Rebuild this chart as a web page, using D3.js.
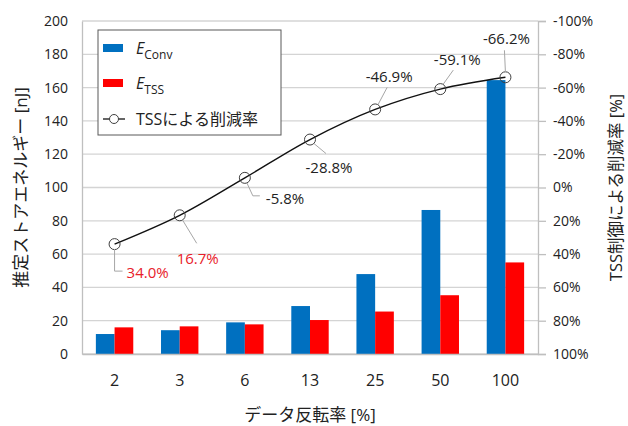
<!DOCTYPE html>
<html>
<head>
<meta charset="utf-8">
<script src="https://cdn.jsdelivr.net/npm/d3@7/dist/d3.min.js"></script>
<style>
  body { margin: 0; background: #fff; }
  text { font-family: "Open Sans", "Noto Sans CJK JP", sans-serif; fill: #222; }
</style>
</head>
<body>
<div id="chart"></div>
<script>
// data
var categories = ["2", "3", "6", "13", "25", "50", "100"];
var eConv = [12, 14.3, 19, 28.8, 48, 86.5, 164.5];
var eTss = [16, 16.6, 17.8, 20.4, 25.5, 35.3, 55];
var reduction = [34.0, 16.7, -5.8, -28.8, -46.9, -59.1, -66.2];
var leftTicks = [0, 20, 40, 60, 80, 100, 120, 140, 160, 180, 200];
var rightTicks = [-100, -80, -60, -40, -20, 0, 20, 40, 60, 80, 100];

// label offsets (from point) for the data labels
var labelPos = [
  {dx: 12, dy: 29, anchor: "start", leader: [[0, 5], [0, 27], [8, 27]]},
  {dx: 18, dy: 43, anchor: "middle", leader: [[3, 5], [17, 28]]},
  {dx: 21, dy: 21, anchor: "start", leader: [[2, 5], [8, 18], [15, 18]]},
  {dx: 19, dy: 28, anchor: "middle", leader: [[4, 4], [16, 14]]},
  {dx: 14, dy: -33, anchor: "middle", leader: [[3, -5], [12, -22]]},
  {dx: 17, dy: -29, anchor: "middle", leader: [[3, -5], [13, -19]]},
  {dx: 1, dy: -39, anchor: "middle", leader: [[0, -5], [-1, -27]]}
];

var W = 628, H = 426;
var margin = {top: 21, right: 90, bottom: 72, left: 82};
var width = W - margin.left - margin.right,
    height = H - margin.top - margin.bottom;

var svg = d3.select("#chart").append("svg")
  .attr("width", W).attr("height", H);
var g = svg.append("g")
  .attr("transform", "translate(" + margin.left + "," + margin.top + ")");

var x = d3.scaleBand().domain(categories).range([0, width]);
var xInner = d3.scaleBand().domain(["conv", "tss"]).range([0, 37.4]);
var y = d3.scaleLinear().domain([0, 200]).range([height, 0]);
var y2 = d3.scaleLinear().domain([-100, 100]).range([0, height]);

// gridlines
g.append("g").selectAll("line").data(leftTicks).enter().append("line")
  .attr("x1", 0).attr("x2", width)
  .attr("y1", function (d) { return y(d); })
  .attr("y2", function (d) { return y(d); })
  .attr("stroke", "#d4d4d4").attr("stroke-width", 1.3);

// bars
var groups = g.append("g").selectAll("g").data(categories).enter().append("g")
  .attr("transform", function (d) { return "translate(" + (x(d) + x.bandwidth() / 2 - 18.7) + ",0)"; });
groups.append("rect")
  .attr("x", xInner("conv")).attr("width", xInner.bandwidth())
  .attr("y", function (d, i) { return y(eConv[i]); })
  .attr("height", function (d, i) { return height - y(eConv[i]); })
  .attr("fill", "#0070c0");
groups.append("rect")
  .attr("x", xInner("tss")).attr("width", xInner.bandwidth())
  .attr("y", function (d, i) { return y(eTss[i]); })
  .attr("height", function (d, i) { return height - y(eTss[i]); })
  .attr("fill", "#ff0000");

// axes
var leftAxis = g.append("g").call(d3.axisLeft(y).tickValues(leftTicks).tickSize(0).tickPadding(14));
leftAxis.select(".domain").attr("stroke", "#bfbfbf").attr("stroke-width", 1.3);
leftAxis.selectAll("text").style("font-size", "14px");

var rightAxis = g.append("g").attr("transform", "translate(" + width + ",0)")
  .call(d3.axisRight(y2).tickValues(rightTicks).tickSize(8).tickPadding(7)
    .tickFormat(function (d) { return d + "%"; }));
rightAxis.select(".domain").attr("stroke", "#bfbfbf").attr("stroke-width", 1.3);
rightAxis.selectAll(".tick line").attr("stroke", "#bfbfbf").attr("stroke-width", 1.3);
rightAxis.selectAll("text").style("font-size", "14px").attr("fill", "#222");

var bottomAxis = g.append("g").attr("transform", "translate(0," + height + ")")
  .call(d3.axisBottom(x).tickSize(0).tickPadding(21));
bottomAxis.select(".domain").attr("stroke", "#bfbfbf").attr("stroke-width", 1.3);
bottomAxis.selectAll("text").style("font-size", "16px").attr("fill", "#222");

// reduction line
var px = function (i) { return x(categories[i]) + x.bandwidth() / 2; };
var line = d3.line()
  .x(function (d, i) { return px(i); })
  .y(function (d) { return y2(d); })
  .curve(d3.curveCatmullRom.alpha(0.5));
g.append("path").datum(reduction)
  .attr("d", line).attr("fill", "none")
  .attr("stroke", "#111").attr("stroke-width", 1.4);
g.append("g").selectAll("circle").data(reduction).enter().append("circle")
  .attr("cx", function (d, i) { return px(i); })
  .attr("cy", function (d) { return y2(d); })
  .attr("r", 5.5)
  .attr("fill", "none").attr("stroke", "#404040").attr("stroke-width", 1);

// data labels
reduction.forEach(function (v, i) {
  var cx = px(i), cy = y2(v), p = labelPos[i];
  g.append("path")
    .attr("d", d3.line()(p.leader.map(function (q) { return [cx + q[0], cy + q[1]]; })))
    .attr("fill", "none").attr("stroke", "#a6a6a6").attr("stroke-width", 1);
  g.append("text")
    .attr("x", cx + p.dx).attr("y", cy + p.dy)
    .attr("dy", "0.35em")
    .attr("text-anchor", p.anchor)
    .style("font-size", "15px")
    .style("fill", v > 0 ? "#e8202a" : "#222")
    .text(v.toFixed(1) + "%");
});

// legend
var lg = svg.append("g").attr("transform", "translate(98,30)");
lg.append("rect").attr("width", 183).attr("height", 105)
  .attr("fill", "#fff").attr("stroke", "#595959").attr("stroke-width", 1);
lg.append("rect").attr("x", 5).attr("y", 14).attr("width", 20).attr("height", 8).attr("fill", "#0070c0");
lg.append("rect").attr("x", 5).attr("y", 49).attr("width", 20).attr("height", 8).attr("fill", "#ff0000");
var t1 = lg.append("text").attr("x", 38).attr("y", 24).style("font-size", "16px");
t1.append("tspan").style("font-style", "italic").text("E");
t1.append("tspan").attr("dy", 5).style("font-size", "12px").text("Conv");
var t2 = lg.append("text").attr("x", 38).attr("y", 59).style("font-size", "16px");
t2.append("tspan").style("font-style", "italic").text("E");
t2.append("tspan").attr("dy", 5).style("font-size", "12px").text("TSS");
lg.append("line").attr("x1", 5).attr("x2", 27).attr("y1", 89).attr("y2", 89)
  .attr("stroke", "#111").attr("stroke-width", 1.3);
lg.append("circle").attr("cx", 16).attr("cy", 89).attr("r", 4.5)
  .attr("fill", "#fff").attr("stroke", "#404040");
lg.append("text").attr("x", 38).attr("y", 95).style("font-size", "16px").text("TSSによる削減率");

// axis titles
svg.append("text")
  .attr("transform", "translate(27," + (margin.top + height / 2) + ") rotate(-90)")
  .attr("text-anchor", "middle").style("font-size", "17px")
  .text("推定ストアエネルギー [nJ]");
svg.append("text")
  .attr("transform", "translate(622," + (margin.top + height / 2) + ") rotate(-90)")
  .attr("text-anchor", "middle").style("font-size", "16.5px")
  .text("TSS制御による削減率 [%]");
svg.append("text")
  .attr("x", margin.left + width / 2).attr("y", 421)
  .attr("text-anchor", "middle").style("font-size", "17px")
  .text("データ反転率 [%]");
</script>
</body>
</html>
